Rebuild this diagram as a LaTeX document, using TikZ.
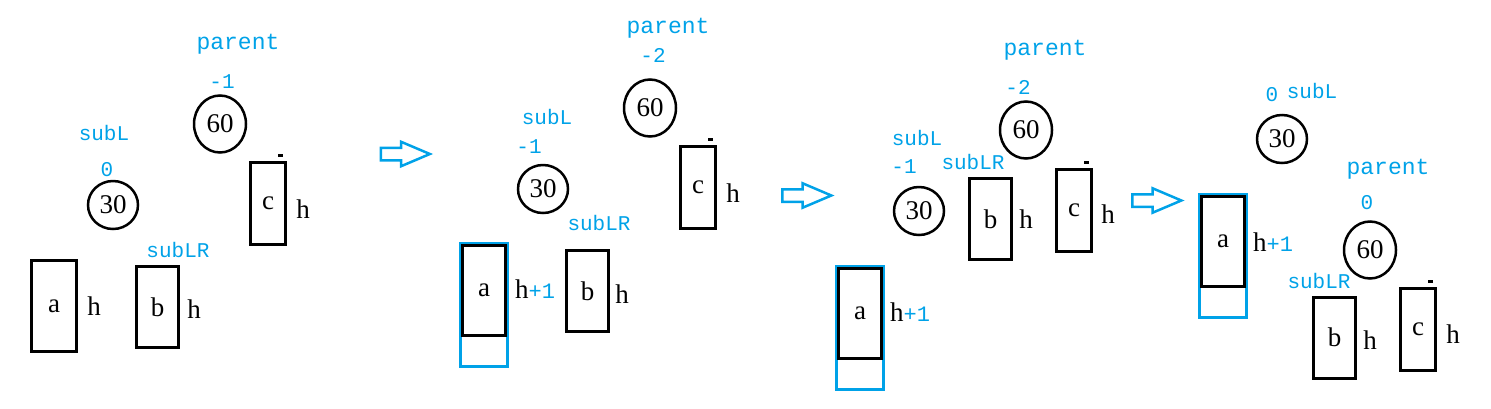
\documentclass[tikz,border=0pt]{standalone}
\usepackage{fontspec}
\setmainfont{Liberation Serif}
\newfontfamily\labelfont{Liberation Mono}
\usetikzlibrary{shapes.geometric,shapes.arrows}
\definecolor{paintblue}{RGB}{0,162,232}

\begin{document}
\begin{tikzpicture}[x=1pt, y=-1pt,
    letter/.style={inner sep=0pt, font=\fontsize{27}{27}\selectfont},
    tag/.style={inner sep=0pt, text=paintblue, font=\labelfont\fontsize{21}{21}\selectfont},
    ptag/.style={tag, font=\labelfont\fontsize{23}{23}\selectfont},
    small/.style={draw, ellipse, line width=2.5pt, minimum width=50pt, minimum height=48pt, letter},
    big/.style={small, minimum width=52pt, minimum height=57pt},
    box/.style={draw, line width=3pt, minimum width=42pt, minimum height=81pt, letter},
    cbox/.style={box, minimum width=35pt, minimum height=82pt},
    abox/.style={box, minimum width=43pt, minimum height=90pt},
    grown/.style={draw=paintblue, line width=3pt, minimum width=47pt, minimum height=123pt, inner sep=0pt},
    move/.style={single arrow, draw=paintblue, line width=2.5pt, minimum height=49pt,
        inner xsep=0pt, inner ysep=5pt, single arrow head extend=6pt, single arrow tip angle=46}]
    \useasboundingbox (0,0) rectangle (1491,408);

    % before rotation
    \node[ptag] (p1) at (238,44) {parent};
    \node[tag] (bf1) at (222,82) {-1};
    \node[big] (n60a) at (220,124) {60};
    \node[tag] (s1) at (104,133) {subL};
    \node[tag] (sb1) at (107,170) {0};
    \node[small] (n30a) at (113,205) {30};
    \node[cbox] (c1) at (268,203.5) {c};
    \draw[line width=3pt] ([shift={(-9,-6)}]c1.north east) -- ++(5,0);
    \node[letter] (hc1) at (303,209) {h};
    \node[tag] (lr1) at (178,250) {subLR};
    \node[box, minimum width=45pt, minimum height=91pt] (a1) at (54,306) {a};
    \node[letter] (ha1) at (94,306) {h};
    \node[box] (b1) at (157.5,307) {b};
    \node[letter] (hb1) at (194,309) {h};

    \node[move] (m1) at (398,154) {};

    % a grows by one
    \node[ptag] (p2) at (668,28) {parent};
    \node[tag] (bf2) at (653,55) {-2};
    \node[big] (n60b) at (650,108) {60};
    \node[tag] (s2) at (547,117) {subL};
    \node[tag] (sb2) at (529,147) {-1};
    \node[small] (n30b) at (543,189) {30};
    \node[cbox] (c2) at (698,187.5) {c};
    \draw[line width=3pt] ([shift={(-9,-6)}]c2.north east) -- ++(5,0);
    \node[letter] (hc2) at (733,193) {h};
    \node[tag] (lr2) at (599,223) {subLR};
    \node[grown] (g2) at (484,304.5) {};
    \node[abox, anchor=north] (a2) at ([yshift=-2.5pt]g2.north) {a};
    \node[letter] (ha2) at (535,289) {h\textcolor{paintblue}{\labelfont\fontsize{22}{22}\selectfont+1}};
    \node[box] (b2) at (587.5,291) {b};
    \node[letter] (hb2) at (622,294) {h};

    \node[move] (m2) at (799.5,195.5) {};

    % after left rotation of subL
    \node[ptag] (p3) at (1045,50) {parent};
    \node[tag] (bf3) at (1018,87) {-2};
    \node[big] (n60c) at (1026,130) {60};
    \node[tag] (s3) at (917,138) {subL};
    \node[tag] (sb3) at (904,167) {-1};
    \node[small] (n30c) at (919,211) {30};
    \node[tag] (lr3) at (973,162) {subLR};
    \node[box] (b3) at (990.5,219) {b};
    \node[letter] (hb3) at (1026,219) {h};
    \node[cbox] (c3) at (1074,210.5) {c};
    \draw[line width=3pt] ([shift={(-9,-6)}]c3.north east) -- ++(5,0);
    \node[letter] (hc3) at (1108,214) {h};
    \node[grown] (g3) at (860,327.5) {};
    \node[abox, anchor=north] (a3) at ([yshift=-2.5pt]g3.north) {a};
    \node[letter] (ha3) at (910,312) {h\textcolor{paintblue}{\labelfont\fontsize{22}{22}\selectfont+1}};

    \node[move] (m3) at (1149.5,200.5) {};

    % after right rotation of parent
    \node[tag] (sb4) at (1272,95) {0};
    \node[tag] (s4) at (1312,91) {subL};
    \node[small] (n30d) at (1282,139) {30};
    \node[ptag] (p4) at (1388,169) {parent};
    \node[tag] (bf4) at (1367,203) {0};
    \node[big] (n60d) at (1370,250) {60};
    \node[grown] (g4) at (1223,255.5) {};
    \node[abox, anchor=north] (a4) at ([yshift=-2.5pt]g4.north) {a};
    \node[letter] (ha4) at (1273,242) {h\textcolor{paintblue}{\labelfont\fontsize{22}{22}\selectfont+1}};
    \node[tag] (lr4) at (1319,281) {subLR};
    \node[box] (b4) at (1334.5,337.5) {b};
    \node[letter] (hb4) at (1370,340) {h};
    \node[cbox] (c4) at (1418,329.5) {c};
    \draw[line width=3pt] ([shift={(-9,-6)}]c4.north east) -- ++(5,0);
    \node[letter] (hc4) at (1453,334) {h};
\end{tikzpicture}
\end{document}
